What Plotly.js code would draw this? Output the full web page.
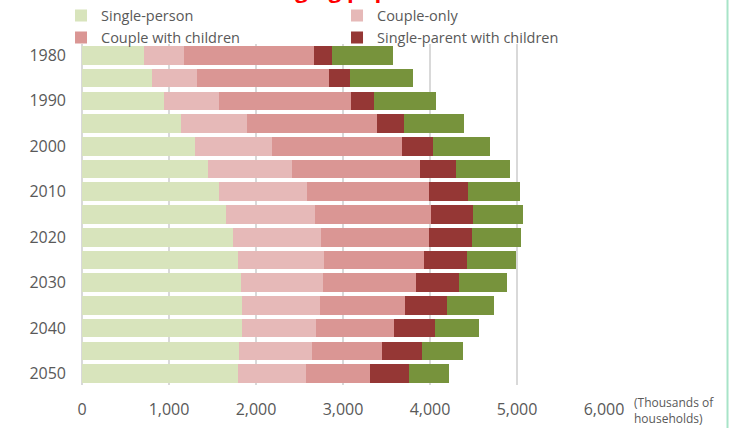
<!DOCTYPE html>
<html>
<head>
<meta charset="utf-8">
<script src="https://cdn.plot.ly/plotly-3.0.1.min.js"></script>
<style>
  html, body { margin: 0; padding: 0; background: #ffffff; }
  #chart { width: 729px; height: 428px; }
</style>
</head>
<body>
<div id="chart"></div>
<script>
// Households by family type, thousands of households (projection to 2050)
const years = [1980, 1985, 1990, 1995, 2000, 2005, 2010, 2015, 2020, 2025, 2030, 2035, 2040, 2045, 2050];
const singlePerson = [710, 800, 940, 1135, 1295, 1450, 1575, 1660, 1740, 1795, 1830, 1840, 1840, 1810, 1790];
const coupleOnly = [460, 520, 630, 765, 885, 960, 1010, 1020, 1010, 985, 940, 890, 850, 830, 780];
const coupleWithChildren = [1500, 1515, 1520, 1495, 1495, 1470, 1405, 1330, 1235, 1150, 1070, 985, 900, 810, 745];
const singleParent = [200, 240, 265, 310, 355, 415, 450, 480, 495, 500, 495, 485, 465, 455, 440];
const other = [710, 725, 715, 685, 655, 620, 595, 580, 570, 560, 545, 530, 510, 480, 460];

const yearTicks = [1980, 1990, 2000, 2010, 2020, 2030, 2040, 2050];
const xTicks = [0, 1000, 2000, 3000, 4000, 5000, 6000];
const xTickText = ['0', '1,000', '2,000', '3,000', '4,000', '5,000', '6,000'];

const seriesNames = ['Single-person', 'Couple-only', 'Couple with children', 'Single-parent with children', 'Other'];
const seriesValues = [singlePerson, coupleOnly, coupleWithChildren, singleParent, other];
const seriesColors = ['#d8e4bc', '#e6b9b8', '#da9694', '#953735', '#77933c'];

const FONT = '"Open Sans", "Noto Sans", sans-serif';
const GREY = '#595959';

const traces = seriesNames.map((name, i) => ({
  type: 'bar',
  orientation: 'h',
  name: name,
  x: seriesValues[i],
  y: years,
  marker: { color: seriesColors[i], line: { width: 0 } },
  showlegend: i < 4,
  hoverinfo: 'name+x'
}));

const layout = {
  width: 729,
  height: 428,
  barmode: 'stack',
  bargap: 0.18,
  paper_bgcolor: '#ffffff',
  plot_bgcolor: '#ffffff',
  margin: { l: 82, r: 125, t: 44, b: 43, pad: 0, autoexpand: false },
  font: { family: FONT, color: GREY },
  showlegend: true,
  legend: {
    orientation: 'h',
    x: -0.0402, xanchor: 'left',
    y: 1.13, yanchor: 'top',
    entrywidth: 231,
    entrywidthmode: 'pixels',
    traceorder: 'normal',
    bgcolor: 'rgba(0,0,0,0)',
    font: { family: FONT, size: 14.5, color: GREY }
  },
  xaxis: {
    range: [0, 6000],
    tickvals: xTicks,
    ticktext: xTickText,
    showgrid: true,
    gridcolor: '#d9d9d9',
    gridwidth: 1.5,
    zeroline: true,
    zerolinecolor: '#d9d9d9',
    zerolinewidth: 1.5,
    showline: false,
    ticks: '',
    ticklabelstandoff: 13,
    tickfont: { family: FONT, size: 16, color: GREY },
    fixedrange: true
  },
  yaxis: {
    range: [2052.5, 1977.5],
    tickvals: yearTicks,
    tickformat: 'd',
    showgrid: false,
    zeroline: false,
    showline: false,
    ticks: '',
    ticklabelstandoff: 15,
    tickfont: { family: FONT, size: 16, color: GREY },
    fixedrange: true
  },
  annotations: [
    {
      text: '(Thousands of<br>households)',
      xref: 'paper', yref: 'paper',
      x: 1.0536, y: -0.074,
      xanchor: 'left', yanchor: 'middle',
      align: 'left',
      showarrow: false,
      font: { family: FONT, size: 12, color: GREY }
    },
    {
      text: '<b>Changing population</b>',
      xref: 'paper', yref: 'paper',
      x: 0.52, y: 1.112,
      xanchor: 'center', yanchor: 'bottom',
      showarrow: false,
      font: { family: FONT, size: 22, color: '#ff0000' }
    }
  ],
  shapes: [
    {
      type: 'line',
      xref: 'paper', yref: 'paper',
      x0: 1.2366, x1: 1.2366, y0: -0.2, y1: 1.2,
      line: { color: '#a8e4c8', width: 2 }
    }
  ]
};

Plotly.newPlot('chart', traces, layout, { displayModeBar: false, staticPlot: true });
</script>
</body>
</html>
